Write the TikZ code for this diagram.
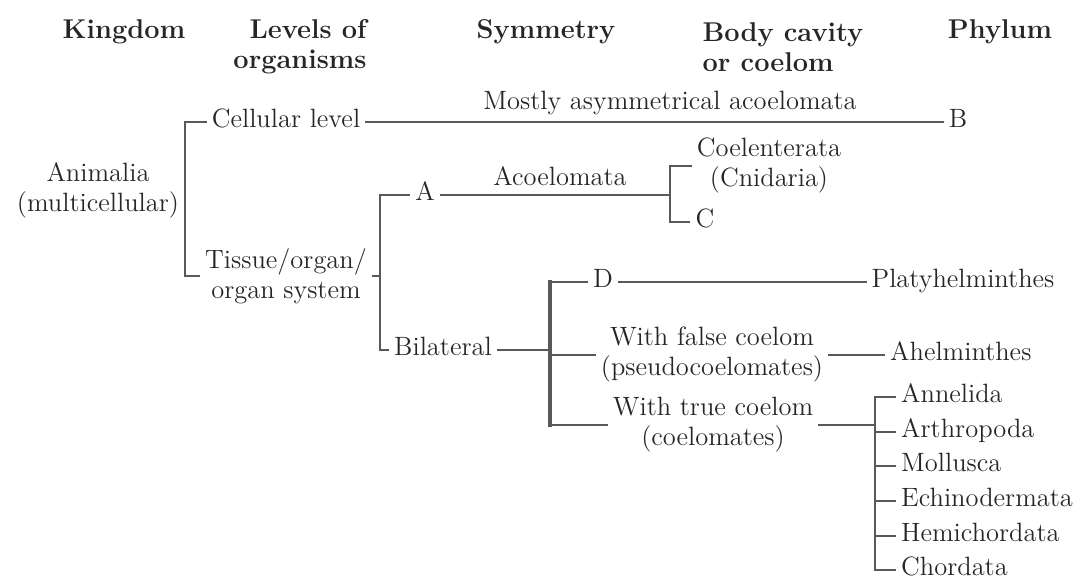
\documentclass[tikz,border=0pt]{standalone}
\usetikzlibrary{positioning}
\begin{document}
\begin{tikzpicture}[x=0.015cm, y=-0.015cm,
    every node/.style={inner sep=2pt, text=black!85, font=\fontsize{11.3}{12.8}\selectfont},
    head/.style={font=\fontsize{11.6}{12.8}\selectfont\bfseries},
    taxon/.style={text height=1.6ex, text depth=0.45ex},
    group/.style={align=center},
    phylum/.style={anchor=west, text height=1.6ex, text depth=0.45ex},
    link/.style={draw=black!65, line width=0.7pt}]
  \useasboundingbox (0,0) rectangle (1084,582);

  % column headers
  \node[head] (hkingdom) at (124,32) {Kingdom};
  \node[head, align=right] (hlevels) at (300,47) {Levels of\\organisms};
  \node[head] (hsym) at (546,32) {Symmetry};
  \node[head, align=left] (hcavity) at (783,47) {Body cavity\\or coelom};
  \node[head] (hphylum) at (1000,32) {Phylum};

  % taxa
  \node[group] (animalia) at (98,190) {Animalia\\(multicellular)};
  \node[taxon] (cellular) at (286,122) {Cellular level};
  \node[group] (tissue) at (286,276) {Tissue/organ/\\organ system};
  \node[taxon] (b) at (958,122) {B};
  \node[taxon] (a) at (425,195) {A};
  \node[group] (coel) at (769,166) {Coelenterata\\(Cnidaria)};
  \node[taxon] (c) at (705,222) {C};
  \node[taxon] (bilateral) at (443,350) {Bilateral};
  \node[taxon] (d) at (603,282) {D};
  \node[taxon] (platy) at (963,282) {Platyhelminthes};
  \node[group] (falsec) at (712,355) {With false coelom\\(pseudocoelomates)};
  \node[taxon, anchor=west] (ahel) at (885,355) {Ahelminthes};
  \node[group] (truec) at (713,425) {With true coelom\\(coelomates)};
  \foreach \name/\txt/\y in {annelida/Annelida/397, arthropoda/Arthropoda/432,
      mollusca/Mollusca/466, echino/Echinodermata/501,
      hemi/Hemichordata/536, chordata/Chordata/570}
    \node[phylum] (\name) at (896,\y) {\txt};

  % texts on the lines
  \node (mostly) at (670,103) {Mostly asymmetrical acoelomata};
  \node (acoel) at (560,176) {Acoelomata};

  % bracket spines
  \coordinate (sp1) at (185,200);
  \coordinate (sp2) at (380,270);
  \coordinate (sp3) at (670,195);
  \coordinate (sp4) at (550,350);
  \coordinate (sp5) at (875,480);

  \draw[link] (animalia.east) -- (animalia.east -| sp1);
  \draw[link] (cellular.west) -| (sp1) |- (tissue.west);
  \draw[link] (cellular.east) -- (b.west);
  \draw[link] (tissue.east) -- (tissue.east -| sp2);
  \draw[link] (a.west) -| (sp2) |- (bilateral.west);
  \draw[link] (a.east) -- (a.east -| sp3);
  \draw[link] (coel.west) -| (sp3) |- (c.west);
  \draw[link] (bilateral.east) -- (bilateral.east -| sp4);
  \draw[link, line width=1.6pt, line cap=rect] (d.west -| sp4) -- (truec.west -| sp4);
  \foreach \n in {d, falsec, truec}
    \draw[link] (\n.west) -- (\n.west -| sp4);
  \draw[link] (d.east) -- (platy.west);
  \draw[link] (falsec.east) -- (ahel.west);
  \draw[link] (truec.east) -- (truec.east -| sp5);
  \draw[link] (annelida.west) -| (sp5) |- (chordata.west);
  \foreach \n in {arthropoda, mollusca, echino, hemi}
    \draw[link] (\n.west) -- (\n.west -| sp5);
\end{tikzpicture}
\end{document}
